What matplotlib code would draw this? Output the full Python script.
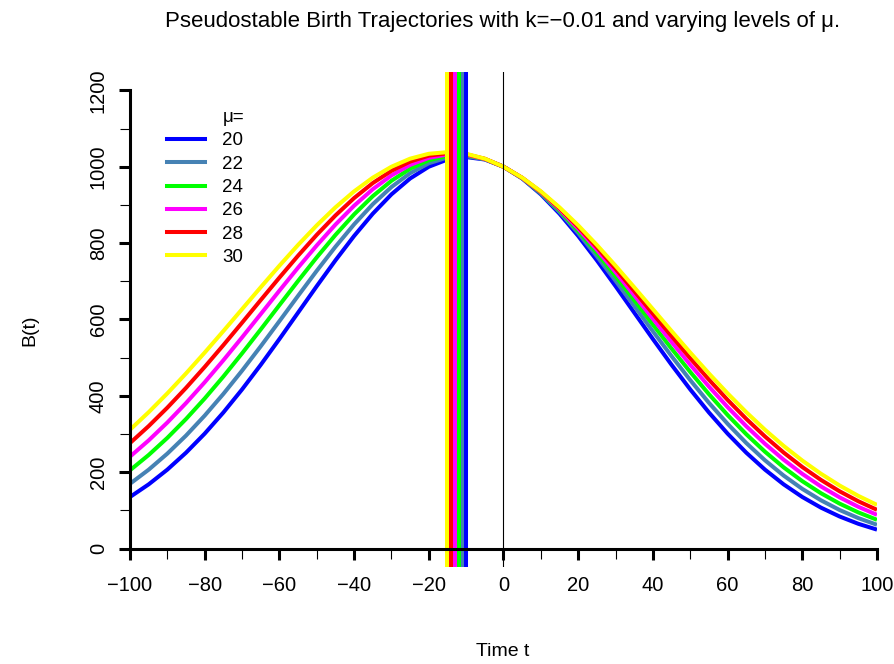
import matplotlib
matplotlib.use("Agg")
import matplotlib.pyplot as plt
from matplotlib.lines import Line2D
from matplotlib.ticker import MultipleLocator

plt.rcParams['font.family'] = ['Liberation Sans', 'DejaVu Sans']

# ---- data ----
t = [-100, -95, -90, -85, -80, -75, -70, -65, -60, -55, -50, -45, -40, -35, -30, -25, -20,
     -15, -10, -5, 0, 5, 10, 15, 20, 25, 30, 35, 40, 45, 50, 55, 60, 65, 70, 75, 80,
     85, 90, 95, 100]
mus = [20, 22, 24, 26, 28, 30]
mu20 = [135.3, 168.4, 207.0, 251.3, 301.2, 356.6, 416.9, 481.3, 548.8, 618.0, 687.3,
        754.8, 818.7, 877.0, 927.7, 969.2, 1000.0, 1018.9, 1025.3, 1018.9, 1000.0,
        969.2, 927.7, 877.0, 818.7, 754.8, 687.3, 618.0, 548.8, 481.3, 416.9,
        356.6, 301.2, 251.3, 207.0, 168.4, 135.3, 107.4, 84.2, 65.1, 49.8]
mu22 = [169.9, 206.8, 248.9, 296.1, 348.4, 405.2, 466.0, 529.8, 595.6, 662.0, 727.5,
        790.4, 849.1, 901.8, 946.9, 983.1, 1009.1, 1024.2, 1027.6, 1019.5, 1000.0,
        969.8, 929.9, 881.5, 826.2, 765.6, 701.5, 635.5, 569.1, 504.0, 441.2,
        381.9, 326.9, 276.6, 231.4, 191.4, 156.5, 126.6, 101.2, 80.0, 62.5]
mu24 = [205.3, 245.3, 290.1, 339.5, 393.2, 450.7, 511.3, 574.0, 637.6, 701.0, 762.7,
        821.3, 875.2, 922.9, 963.2, 994.8, 1016.8, 1028.5, 1029.6, 1020.0, 1000.0,
        970.2, 931.6, 885.3, 832.5, 774.8, 713.6, 650.4, 586.6, 523.7, 462.6,
        404.5, 349.9, 299.6, 253.9, 212.9, 176.7, 145.1, 117.9, 94.9, 75.5]
mu26 = [241.0, 283.5, 330.3, 381.2, 435.7, 493.3, 553.1, 614.2, 675.5, 735.8, 793.9,
        848.4, 897.9, 941.2, 977.2, 1004.8, 1023.3, 1032.2, 1031.2, 1020.4, 1000.0,
        970.6, 933.1, 888.5, 837.8, 782.6, 723.9, 663.3, 601.9, 541.0, 481.5,
        424.5, 370.7, 320.6, 274.6, 233.0, 195.8, 162.9, 134.3, 109.6, 88.6]
mu28 = [276.5, 320.9, 369.2, 421.0, 475.8, 532.9, 591.6, 650.9, 709.7, 767.1, 821.7,
        872.3, 917.9, 957.2, 989.3, 1013.5, 1029.0, 1035.4, 1032.7, 1020.7, 1000.0,
        971.0, 934.4, 891.2, 842.5, 789.3, 732.9, 674.5, 615.3, 556.2, 498.4,
        442.6, 389.5, 339.8, 293.8, 251.7, 213.8, 179.9, 150.1, 124.1, 101.7]
mu30 = [311.4, 357.3, 406.6, 458.8, 513.4, 569.8, 627.1, 684.4, 740.8, 795.2, 846.5,
        893.6, 935.5, 971.3, 1000.0, 1021.1, 1033.9, 1038.2, 1033.9, 1021.1, 1000.0,
        971.3, 935.5, 893.6, 846.5, 795.2, 740.8, 684.4, 627.1, 569.8, 513.4,
        458.8, 406.6, 357.3, 311.4, 269.1, 230.7, 196.1, 165.3, 138.2, 114.6]
series = [mu20, mu22, mu24, mu26, mu28, mu30]
peaks = [-10, -11, -12, -13, -14, -15]
colors = ['#0000FF', '#4682B4', '#00FF00', '#FF00FF', '#FF0000', '#FFFF00']

W, H = 894, 664
fig = plt.figure(figsize=(W / 100, H / 100), dpi=100)
ax = fig.add_axes([130 / W, (H - 567) / H, (877 - 130) / W, (567 - 72) / H])
ax.set_xlim(-100, 100)
ax.set_ylim(-48, 1248)

lw = 2.9
for s, c in zip(series, colors):
    ax.plot(t, s, color=c, lw=lw, solid_capstyle='butt', solid_joinstyle='round')
for p, c in zip(peaks, colors):
    ax.axvline(p, color=c, lw=lw)
ax.axvline(0, color='black', lw=0.8)

# axes styling
for sp in ['top', 'right']:
    ax.spines[sp].set_visible(False)
ax.spines['bottom'].set_position(('data', 0))
ax.spines['bottom'].set_bounds(-100, 100)
ax.spines['left'].set_bounds(0, 1200)
for sp in ['bottom', 'left']:
    ax.spines[sp].set_linewidth(2.2)
    ax.spines[sp].set_capstyle('projecting')

ax.xaxis.set_major_locator(MultipleLocator(20))
ax.xaxis.set_minor_locator(MultipleLocator(10))
ax.yaxis.set_major_locator(MultipleLocator(200))
ax.yaxis.set_minor_locator(MultipleLocator(100))
ax.tick_params(which='major', length=8, width=2.2, labelsize=14.5, color='black')
ax.tick_params(which='minor', length=7.5, width=0.8, color='black')
ax.tick_params(axis='x', which='major', pad=11.5)
ax.tick_params(axis='y', which='major', pad=8)
for lab in ax.get_yticklabels():
    lab.set_rotation(90)
    lab.set_va('center')

fig.text(503 / W, 1 - 21 / H, 'Pseudostable Birth Trajectories with k=\u22120.01 and varying levels of \u03bc.',
         ha='center', va='center', fontsize=16)
fig.text(503 / W, 1 - 651 / H, 'Time t', ha='center', va='center', fontsize=14)
fig.text(30 / W, 1 - 330 / H, 'B(t)', ha='center', va='center', fontsize=14, rotation=90)

handles = [Line2D([], [], color='none')] + [Line2D([], [], color=c, lw=lw) for c in colors]
labels = ['\u03bc='] + [str(m) for m in mus]
leg = ax.legend(handles, labels, loc='upper left', bbox_to_anchor=(167 / W, 1 - 109 / H),
                bbox_transform=fig.transFigure, frameon=False, fontsize=13.5,
                handlelength=2.05, handletextpad=0.9, labelspacing=0.33,
                borderpad=0, borderaxespad=0)

fig.savefig('out.png', dpi=100)
